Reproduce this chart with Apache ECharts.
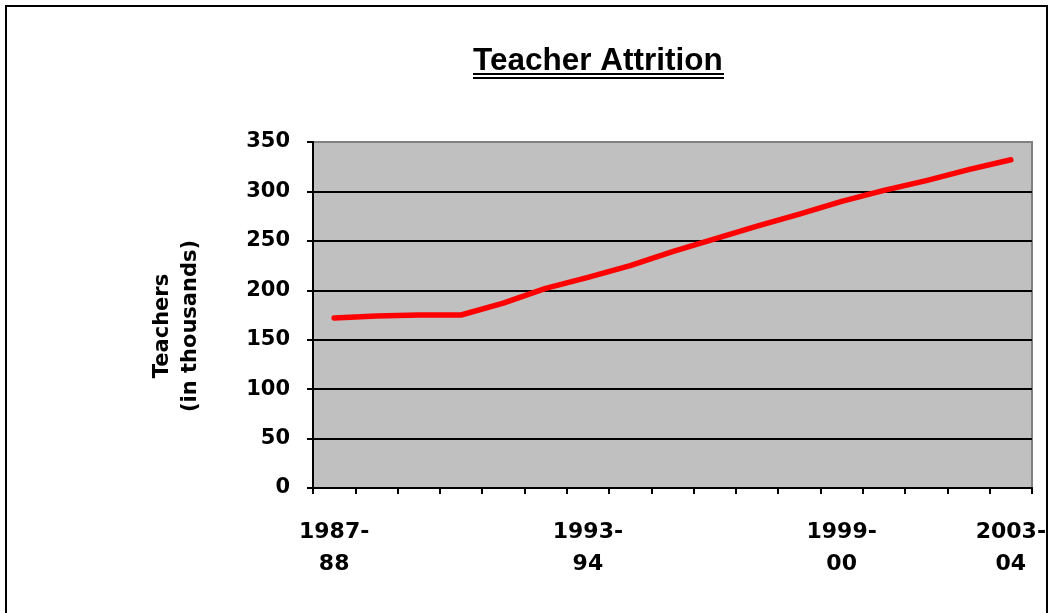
<!DOCTYPE html>
<html><head><meta charset="utf-8">
<script src="https://cdn.jsdelivr.net/npm/echarts@6/dist/echarts.min.js"></script>
<style>html,body{margin:0;padding:0;background:#fff}#c{width:1049px;height:613px}</style>
</head><body><div id="c"></div>
<script>
const categories = ["1987-88","1988-89","1989-90","1990-91","1991-92","1992-93","1993-94","1994-95","1995-96","1996-97","1997-98","1998-99","1999-00","2000-01","2001-02","2002-03","2003-04"];
const teachers = [172, 174, 175, 175, 187, 202, 213, 225, 239, 252, 265, 277, 290, 301, 311, 322, 332];
const shownLabels = ["1987-88","1993-94","1999-00","2003-04"];
const yTicks = [0, 50, 100, 150, 200, 250, 300, 350];

const chart = echarts.init(document.getElementById('c'));
const F = 'DejaVu Sans';
chart.setOption({
  backgroundColor: '#fff',
  animation: false,
  title: {
    text: 'Teacher Attrition', left: 468, top: 40,
    textStyle: {fontFamily: 'Liberation Sans', fontWeight: 'bold', fontSize: 31.5, color: '#000'}
  },
  graphic: [
    {type: 'rect', shape: {x: 6, y: 6, width: 1041, height: 640}, style: {fill: null, stroke: '#000', lineWidth: 2}, silent: true},
    {type: 'line', shape: {x1: 473, y1: 74, x2: 724, y2: 74}, style: {stroke: '#000', lineWidth: 2}},
    {type: 'line', shape: {x1: 473, y1: 78, x2: 724, y2: 78}, style: {stroke: '#000', lineWidth: 2}}
  ],
  grid: {left: 313, right: 16, top: 142, bottom: 125, show: true, backgroundColor: '#c0c0c0', borderColor: '#808080', borderWidth: 2},
  xAxis: {
    type: 'category', data: categories, boundaryGap: true,
    axisLine: {lineStyle: {color: '#000', width: 2}},
    axisTick: {show: true, interval: 0, length: 6, lineStyle: {color: '#000', width: 2}},
    axisLabel: {
      interval: (i, v) => shownLabels.includes(v),
      formatter: v => v.replace('-', '-\n'),
      margin: 28, fontFamily: F, fontWeight: 'bold', fontSize: 22, lineHeight: 32, color: '#000'
    },
    splitLine: {show: false}
  },
  yAxis: {
    type: 'value', min: yTicks[0], max: yTicks[yTicks.length - 1], interval: 50,
    name: 'Teachers\n(in thousands)', nameLocation: 'middle', nameRotate: 90, nameGap: 108,
    nameTextStyle: {fontFamily: F, fontWeight: 'bold', fontSize: 21, lineHeight: 28, color: '#000', padding: [0, 22, 0, 0]},
    axisLine: {show: true, lineStyle: {color: '#000', width: 2}},
    axisTick: {show: true, length: 6, lineStyle: {color: '#000', width: 2}},
    axisLabel: {margin: 23, fontFamily: F, fontWeight: 'bold', fontSize: 21, color: '#000'},
    splitLine: {show: true, lineStyle: {color: ['#000','#000','#000','#000','#000','#000','#000','#808080'], width: 2}}
  },
  series: [{
    type: 'line', data: teachers, symbol: 'none', showSymbol: false,
    lineStyle: {color: '#ff0000', width: 5.5, cap: 'round', join: 'round'}
  }]
});
</script></body></html>
